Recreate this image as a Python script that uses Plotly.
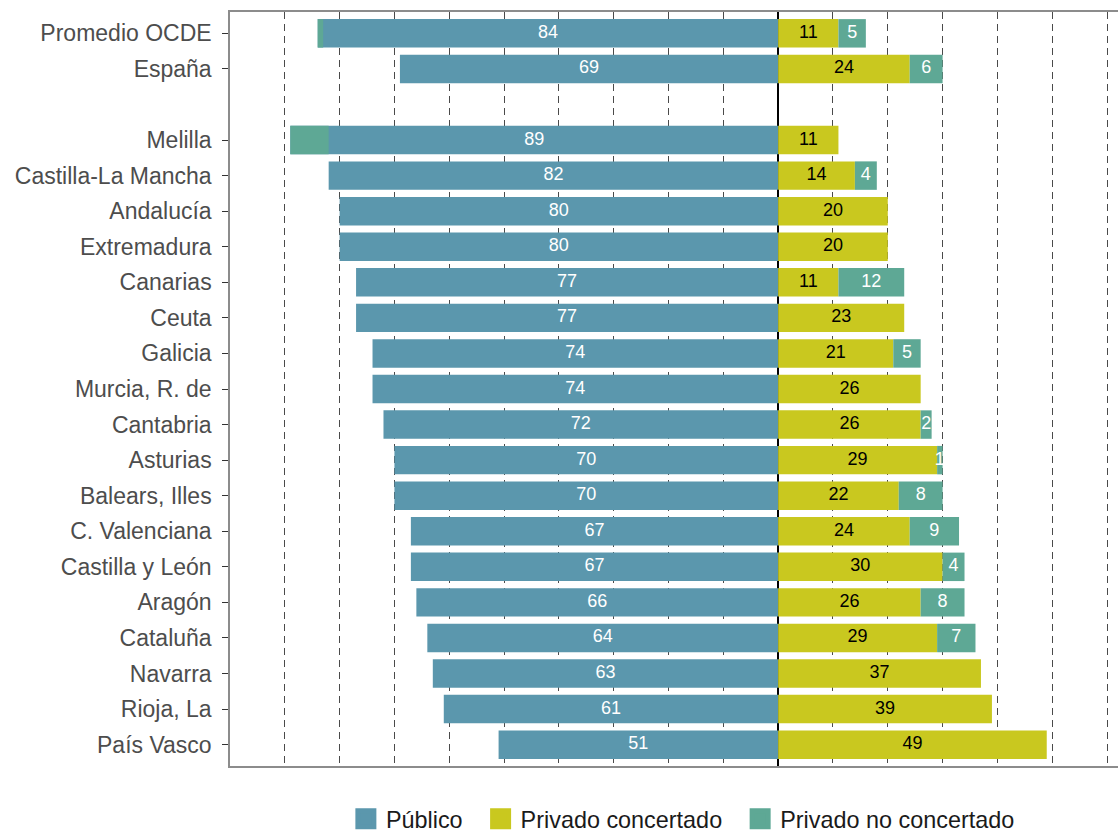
import plotly.graph_objects as go

# ---- data (percentages) ----
categorias = ["Promedio OCDE", "España", "",
              "Melilla", "Castilla-La Mancha", "Andalucía", "Extremadura", "Canarias",
              "Ceuta", "Galicia", "Murcia, R. de", "Cantabria", "Asturias", "Balears, Illes",
              "C. Valenciana", "Castilla y León", "Aragón", "Cataluña", "Navarra",
              "Rioja, La", "País Vasco"]
publico = [84, 69, None, 89, 82, 80, 80, 77, 77, 74, 74, 72, 70, 70, 67, 67, 66, 64, 63, 61, 51]
concertado = [11, 24, None, 11, 14, 20, 20, 11, 23, 21, 26, 26, 29, 22, 24, 30, 26, 29, 37, 39, 49]
no_concertado = [5, 6, None, 0, 4, 0, 0, 12, 0, 5, 0, 2, 1, 8, 9, 4, 8, 7, 0, 0, 0]
# small teal segment visible at the far left of some público bars
no_concertado_izq = [1, 0, None, 7, 0, 0, 0, 0, 0, 0, 0, 0, 0, 0, 0, 0, 0, 0, 0, 0, 0]
series = ["Público", "Privado concertado", "Privado no concertado"]

C_PUB = "#5B97AD"
C_CON = "#C9C81F"
C_NOC = "#5EA895"
colores = [C_PUB, C_CON, C_NOC]
FONT = "Liberation Sans, Arial, sans-serif"

idx = [i for i, c in enumerate(categorias) if c != ""]
ypos = idx
pub = [publico[i] for i in idx]
con = [concertado[i] for i in idx]
noc = [no_concertado[i] for i in idx]
izq = [no_concertado_izq[i] for i in idx]

fig = go.Figure()
W = 0.8
bar = dict(orientation="h", width=W, showlegend=False, hoverinfo="skip")
fig.add_trace(go.Bar(y=ypos, x=[-v for v in pub], base=[0] * len(pub),
                     marker=dict(color=C_PUB, line=dict(width=0)), **bar))
fig.add_trace(go.Bar(y=ypos, x=con, base=[0] * len(con),
                     marker=dict(color=C_CON, line=dict(width=0)), **bar))
fig.add_trace(go.Bar(y=ypos, x=noc, base=con,
                     marker=dict(color=C_NOC, line=dict(width=0)), **bar))
fig.add_trace(go.Bar(y=ypos, x=izq, base=[-v for v in pub],
                     marker=dict(color=C_NOC, line=dict(width=0)), **bar))

# labels
def txt(xs, ys, texts, color):
    fig.add_trace(go.Scatter(x=xs, y=ys, text=texts, mode="text", showlegend=False,
                             textfont=dict(family=FONT, size=18, color=color),
                             textposition="middle center", hoverinfo="skip"))

txt([-v / 2 for v in pub], ypos, [str(v) for v in pub], "white")
txt([v / 2 for v in con], ypos, [str(v) for v in con], "black")
nx, ny, nt = [], [], []
for c, n, y in zip(con, noc, ypos):
    if n > 0:
        nx.append(c + n / 2); ny.append(y); nt.append(str(n))
txt(nx, ny, nt, "white")

# legend entries with large square keys
for k, (s, col) in enumerate(zip(series, colores)):
    pad = "\u00a0\u00a0" if k < len(series) - 1 else ""
    fig.add_trace(go.Scatter(x=[None], y=[None], mode="markers", name=s + pad,
                             marker=dict(symbol="square", size=26, color=col,
                                         line=dict(color=col, width=5))))

fig.update_layout(
    width=1118, height=832,
    margin=dict(l=230, r=0, t=12, b=66, autoexpand=False),
    barmode="overlay",
    plot_bgcolor="white", paper_bgcolor="white",
    font=dict(family=FONT, size=23, color="#4D4D4D"),
    legend=dict(orientation="h", x=0.51, xanchor="center", y=-0.0705, yanchor="middle",
                font=dict(size=23.4, color="#1A1A1A"), traceorder="normal",
                itemsizing="trace"),
    xaxis=dict(range=[-100, 62], dtick=10, tick0=0, showticklabels=False, ticks="",
               showgrid=True, gridcolor="#4A4A4A", gridwidth=1, griddash="7px,5px",
               zeroline=True, zerolinecolor="black", zerolinewidth=2,
               showline=True, linecolor="#8C8C8C", linewidth=1.5, mirror=True),
    yaxis=dict(range=[len(categorias) - 0.4, -0.6], tickmode="array",
               tickvals=ypos, ticktext=[categorias[i] for i in idx],
               ticks="outside", ticklen=6, tickcolor="#333333", tickwidth=1,
               ticklabelstandoff=6,
               showgrid=False, zeroline=False,
               showline=True, linecolor="#8C8C8C", linewidth=1.5, mirror=True),
)

post = ("document.documentElement.style.margin='0';"
        "document.body.style.margin='0';"
        "document.documentElement.style.overflow='hidden';"
        "document.body.style.overflow='hidden';"
        "var d=document.getElementById('{plot_id}');"
        "d.style.position='fixed';d.style.left='0px';d.style.top='0px';")

fig.write_html("out.html", config={"displayModeBar": False}, post_script=post)
